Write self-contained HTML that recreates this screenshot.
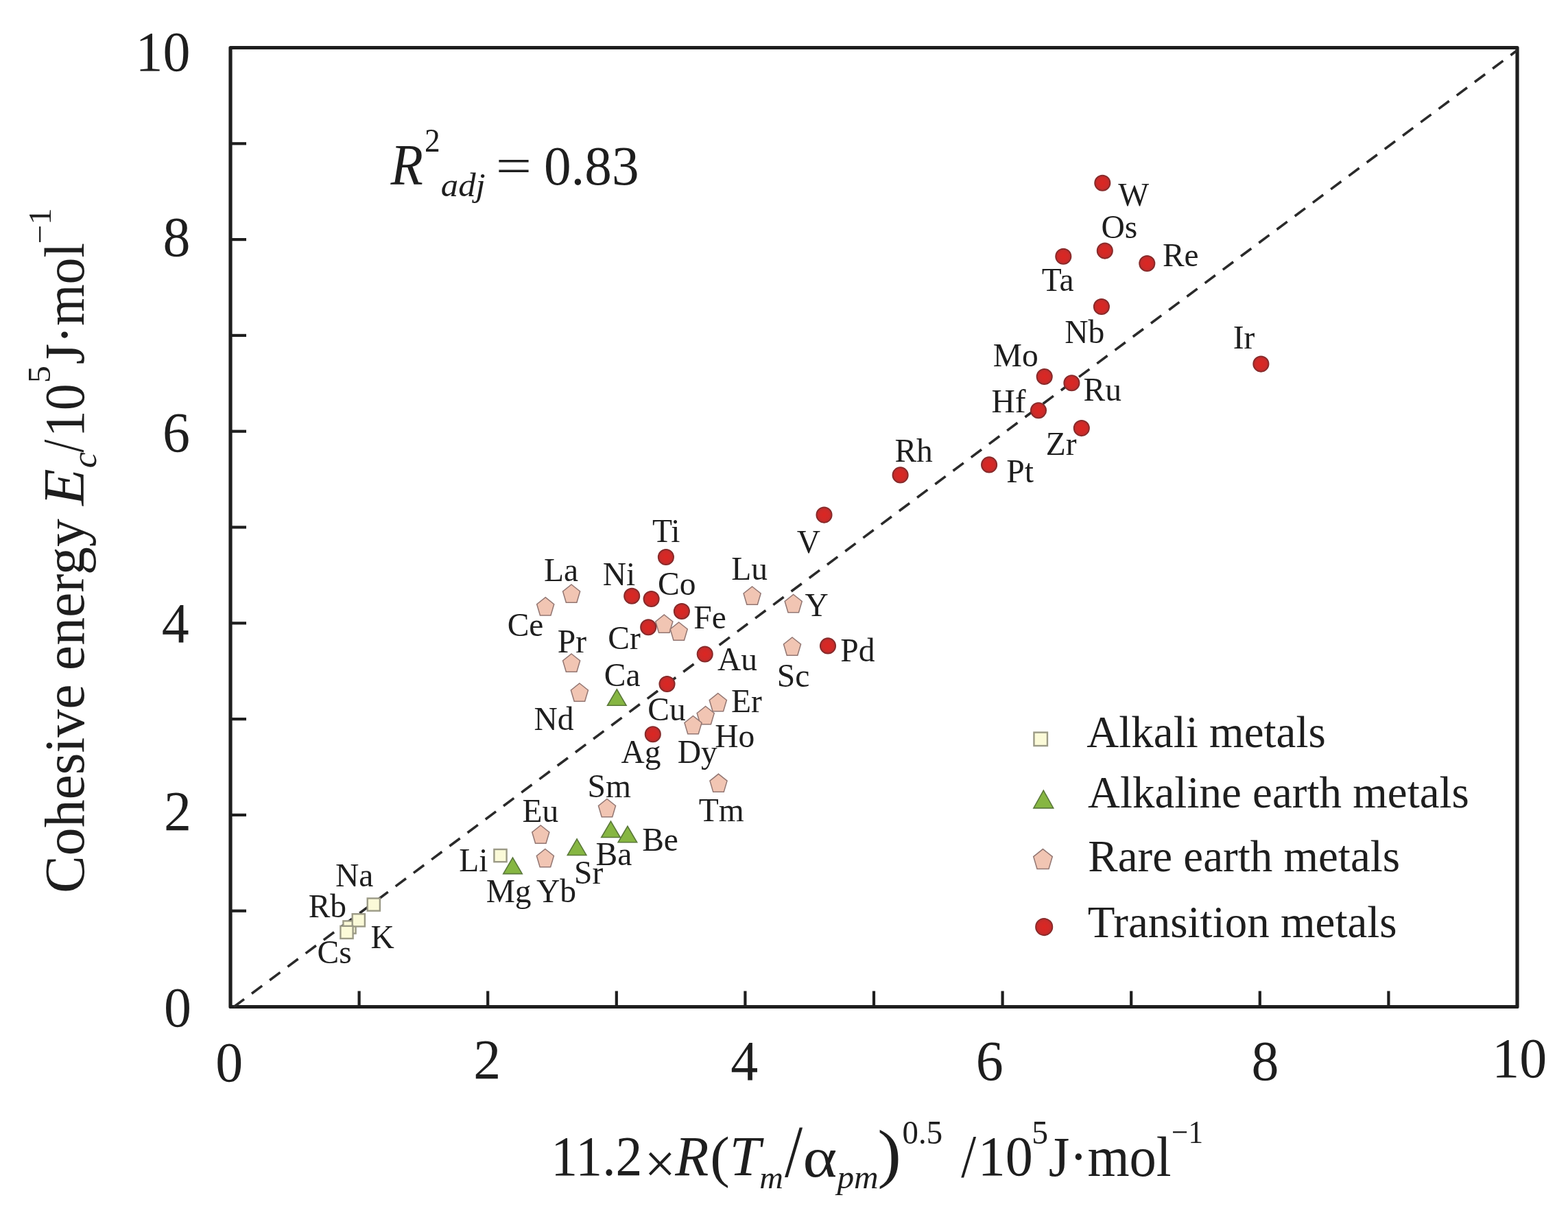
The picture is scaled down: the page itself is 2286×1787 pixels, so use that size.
<!DOCTYPE html>
<html><head><meta charset="utf-8"><title>Cohesive energy plot</title>
<style>
html,body{margin:0;padding:0;background:#fff;}
svg{display:block;}
text{font-family:'Liberation Serif','Times New Roman',serif;}
</style></head>
<body>
<svg width="2286" height="1787" viewBox="0 0 2286 1787">
<defs><radialGradient id="rg" cx="50%" cy="50%" r="50%"><stop offset="0" stop-color="#dc2622"/><stop offset="0.65" stop-color="#d02a28"/><stop offset="1" stop-color="#b42c2c"/></radialGradient></defs>
<rect width="2286" height="1787" fill="#fff"/>
<rect x="336.0" y="69.5" width="1876.0" height="1398.0" fill="none" stroke="#1e1e1e" stroke-width="5.2" stroke-linejoin="round"/>
<line x1="523.60" y1="1467.5" x2="523.60" y2="1444.5" stroke="#1e1e1e" stroke-width="4.2"/>
<line x1="336.0" y1="1327.70" x2="359.0" y2="1327.70" stroke="#1e1e1e" stroke-width="4.2"/>
<line x1="711.20" y1="1467.5" x2="711.20" y2="1444.5" stroke="#1e1e1e" stroke-width="4.2"/>
<line x1="336.0" y1="1187.90" x2="359.0" y2="1187.90" stroke="#1e1e1e" stroke-width="4.2"/>
<line x1="898.80" y1="1467.5" x2="898.80" y2="1444.5" stroke="#1e1e1e" stroke-width="4.2"/>
<line x1="336.0" y1="1048.10" x2="359.0" y2="1048.10" stroke="#1e1e1e" stroke-width="4.2"/>
<line x1="1086.40" y1="1467.5" x2="1086.40" y2="1444.5" stroke="#1e1e1e" stroke-width="4.2"/>
<line x1="336.0" y1="908.30" x2="359.0" y2="908.30" stroke="#1e1e1e" stroke-width="4.2"/>
<line x1="1274.00" y1="1467.5" x2="1274.00" y2="1444.5" stroke="#1e1e1e" stroke-width="4.2"/>
<line x1="336.0" y1="768.50" x2="359.0" y2="768.50" stroke="#1e1e1e" stroke-width="4.2"/>
<line x1="1461.60" y1="1467.5" x2="1461.60" y2="1444.5" stroke="#1e1e1e" stroke-width="4.2"/>
<line x1="336.0" y1="628.70" x2="359.0" y2="628.70" stroke="#1e1e1e" stroke-width="4.2"/>
<line x1="1649.20" y1="1467.5" x2="1649.20" y2="1444.5" stroke="#1e1e1e" stroke-width="4.2"/>
<line x1="336.0" y1="488.90" x2="359.0" y2="488.90" stroke="#1e1e1e" stroke-width="4.2"/>
<line x1="1836.80" y1="1467.5" x2="1836.80" y2="1444.5" stroke="#1e1e1e" stroke-width="4.2"/>
<line x1="336.0" y1="349.10" x2="359.0" y2="349.10" stroke="#1e1e1e" stroke-width="4.2"/>
<line x1="2024.40" y1="1467.5" x2="2024.40" y2="1444.5" stroke="#1e1e1e" stroke-width="4.2"/>
<line x1="336.0" y1="209.30" x2="359.0" y2="209.30" stroke="#1e1e1e" stroke-width="4.2"/>
<line x1="336.0" y1="1471.3" x2="2212.0" y2="73.3" stroke="#2a2a2a" stroke-width="3.6" stroke-dasharray="19 13.7" stroke-dashoffset="-5.9"/>
<text transform="translate(197.59,103.07) scale(0.975,1)" font-size="82" font-style="normal" fill="#1e1e1e">10</text>
<text transform="translate(237.57,373.17) scale(0.975,1)" font-size="82" font-style="normal" fill="#1e1e1e">8</text>
<text transform="translate(236.91,657.55) scale(0.975,1)" font-size="82" font-style="normal" fill="#1e1e1e">6</text>
<text transform="translate(235.77,936.49) scale(0.975,1)" font-size="82" font-style="normal" fill="#1e1e1e">4</text>
<text transform="translate(238.94,1209.95) scale(0.975,1)" font-size="82" font-style="normal" fill="#1e1e1e">2</text>
<text transform="translate(239.07,1495.87) scale(0.975,1)" font-size="82" font-style="normal" fill="#1e1e1e">0</text>
<text transform="translate(314.31,1576.10) scale(0.975,1)" font-size="82" font-style="normal" fill="#1e1e1e">0</text>
<text transform="translate(690.16,1571.60) scale(0.975,1)" font-size="82" font-style="normal" fill="#1e1e1e">2</text>
<text transform="translate(1065.16,1573.70) scale(0.975,1)" font-size="82" font-style="normal" fill="#1e1e1e">4</text>
<text transform="translate(1422.79,1574.00) scale(0.975,1)" font-size="82" font-style="normal" fill="#1e1e1e">6</text>
<text transform="translate(1824.51,1573.70) scale(0.975,1)" font-size="82" font-style="normal" fill="#1e1e1e">8</text>
<text transform="translate(2175.23,1570.40) scale(0.975,1)" font-size="82" font-style="normal" fill="#1e1e1e">10</text>
<rect x="500.40" y="1342.40" width="18.2" height="18.2" fill="#fbfad8" stroke="#9b9a86" stroke-width="2.4"/>
<rect x="513.70" y="1332.20" width="18.2" height="18.2" fill="#fbfad8" stroke="#9b9a86" stroke-width="2.4"/>
<rect x="535.70" y="1309.40" width="18.2" height="18.2" fill="#fbfad8" stroke="#9b9a86" stroke-width="2.4"/>
<rect x="496.40" y="1349.80" width="18.2" height="18.2" fill="#fbfad8" stroke="#9b9a86" stroke-width="2.4"/>
<rect x="720.40" y="1238.00" width="18.2" height="18.2" fill="#fbfad8" stroke="#9b9a86" stroke-width="2.4"/>
<polygon points="899.30,1004.75 913.05,1028.25 885.55,1028.25" fill="#86b642" stroke="#5a783a" stroke-width="1.6"/>
<polygon points="890.50,1197.05 904.25,1220.55 876.75,1220.55" fill="#86b642" stroke="#5a783a" stroke-width="1.6"/>
<polygon points="914.90,1204.25 928.65,1227.75 901.15,1227.75" fill="#86b642" stroke="#5a783a" stroke-width="1.6"/>
<polygon points="841.10,1222.95 854.85,1246.45 827.35,1246.45" fill="#86b642" stroke="#5a783a" stroke-width="1.6"/>
<polygon points="747.50,1250.15 761.25,1273.65 733.75,1273.65" fill="#86b642" stroke="#5a783a" stroke-width="1.6"/>
<polygon points="833.10,851.98 845.65,862.01 840.86,878.25 825.34,878.25 820.55,862.01" fill="#f1c5b3" stroke="#927672" stroke-width="1.5" stroke-linejoin="miter"/>
<polygon points="795.20,870.68 807.75,880.71 802.96,896.95 787.44,896.95 782.65,880.71" fill="#f1c5b3" stroke="#927672" stroke-width="1.5" stroke-linejoin="miter"/>
<polygon points="968.30,895.98 980.85,906.01 976.06,922.25 960.54,922.25 955.75,906.01" fill="#f1c5b3" stroke="#927672" stroke-width="1.5" stroke-linejoin="miter"/>
<polygon points="989.70,906.98 1002.25,917.01 997.46,933.25 981.94,933.25 977.15,917.01" fill="#f1c5b3" stroke="#927672" stroke-width="1.5" stroke-linejoin="miter"/>
<polygon points="833.10,952.98 845.65,963.01 840.86,979.25 825.34,979.25 820.55,963.01" fill="#f1c5b3" stroke="#927672" stroke-width="1.5" stroke-linejoin="miter"/>
<polygon points="844.90,995.98 857.45,1006.01 852.66,1022.25 837.14,1022.25 832.35,1006.01" fill="#f1c5b3" stroke="#927672" stroke-width="1.5" stroke-linejoin="miter"/>
<polygon points="1096.60,854.98 1109.15,865.01 1104.36,881.25 1088.84,881.25 1084.05,865.01" fill="#f1c5b3" stroke="#927672" stroke-width="1.5" stroke-linejoin="miter"/>
<polygon points="1156.70,866.48 1169.25,876.51 1164.46,892.75 1148.94,892.75 1144.15,876.51" fill="#f1c5b3" stroke="#927672" stroke-width="1.5" stroke-linejoin="miter"/>
<polygon points="1155.00,928.98 1167.55,939.01 1162.76,955.25 1147.24,955.25 1142.45,939.01" fill="#f1c5b3" stroke="#927672" stroke-width="1.5" stroke-linejoin="miter"/>
<polygon points="1046.80,1010.48 1059.35,1020.51 1054.56,1036.75 1039.04,1036.75 1034.25,1020.51" fill="#f1c5b3" stroke="#927672" stroke-width="1.5" stroke-linejoin="miter"/>
<polygon points="1028.70,1029.48 1041.25,1039.51 1036.46,1055.75 1020.94,1055.75 1016.15,1039.51" fill="#f1c5b3" stroke="#927672" stroke-width="1.5" stroke-linejoin="miter"/>
<polygon points="1010.50,1043.48 1023.05,1053.51 1018.26,1069.75 1002.74,1069.75 997.95,1053.51" fill="#f1c5b3" stroke="#927672" stroke-width="1.5" stroke-linejoin="miter"/>
<polygon points="1047.50,1128.08 1060.05,1138.11 1055.26,1154.35 1039.74,1154.35 1034.95,1138.11" fill="#f1c5b3" stroke="#927672" stroke-width="1.5" stroke-linejoin="miter"/>
<polygon points="885.00,1164.48 897.55,1174.51 892.76,1190.75 877.24,1190.75 872.45,1174.51" fill="#f1c5b3" stroke="#927672" stroke-width="1.5" stroke-linejoin="miter"/>
<polygon points="788.30,1202.98 800.85,1213.01 796.06,1229.25 780.54,1229.25 775.75,1213.01" fill="#f1c5b3" stroke="#927672" stroke-width="1.5" stroke-linejoin="miter"/>
<polygon points="794.90,1237.48 807.45,1247.51 802.66,1263.75 787.14,1263.75 782.35,1247.51" fill="#f1c5b3" stroke="#927672" stroke-width="1.5" stroke-linejoin="miter"/>
<circle cx="1607.3" cy="266.8" r="11.2" fill="url(#rg)" stroke="#842a2a" stroke-width="1.7"/>
<circle cx="1610.8" cy="365.6" r="11.2" fill="url(#rg)" stroke="#842a2a" stroke-width="1.7"/>
<circle cx="1550.3" cy="373.8" r="11.2" fill="url(#rg)" stroke="#842a2a" stroke-width="1.7"/>
<circle cx="1672.3" cy="384.0" r="11.2" fill="url(#rg)" stroke="#842a2a" stroke-width="1.7"/>
<circle cx="1605.9" cy="447.0" r="11.2" fill="url(#rg)" stroke="#842a2a" stroke-width="1.7"/>
<circle cx="1522.7" cy="549.0" r="11.2" fill="url(#rg)" stroke="#842a2a" stroke-width="1.7"/>
<circle cx="1562.4" cy="558.2" r="11.2" fill="url(#rg)" stroke="#842a2a" stroke-width="1.7"/>
<circle cx="1514.0" cy="598.2" r="11.2" fill="url(#rg)" stroke="#842a2a" stroke-width="1.7"/>
<circle cx="1576.8" cy="624.1" r="11.2" fill="url(#rg)" stroke="#842a2a" stroke-width="1.7"/>
<circle cx="1838.4" cy="530.6" r="11.2" fill="url(#rg)" stroke="#842a2a" stroke-width="1.7"/>
<circle cx="1442.1" cy="677.4" r="11.2" fill="url(#rg)" stroke="#842a2a" stroke-width="1.7"/>
<circle cx="1312.6" cy="692.4" r="11.2" fill="url(#rg)" stroke="#842a2a" stroke-width="1.7"/>
<circle cx="1201.5" cy="750.6" r="11.2" fill="url(#rg)" stroke="#842a2a" stroke-width="1.7"/>
<circle cx="970.9" cy="812.0" r="11.2" fill="url(#rg)" stroke="#842a2a" stroke-width="1.7"/>
<circle cx="921.2" cy="868.8" r="11.2" fill="url(#rg)" stroke="#842a2a" stroke-width="1.7"/>
<circle cx="949.6" cy="873.0" r="11.2" fill="url(#rg)" stroke="#842a2a" stroke-width="1.7"/>
<circle cx="993.9" cy="891.0" r="11.2" fill="url(#rg)" stroke="#842a2a" stroke-width="1.7"/>
<circle cx="945.2" cy="914.3" r="11.2" fill="url(#rg)" stroke="#842a2a" stroke-width="1.7"/>
<circle cx="1027.7" cy="953.5" r="11.2" fill="url(#rg)" stroke="#842a2a" stroke-width="1.7"/>
<circle cx="972.5" cy="997.0" r="11.2" fill="url(#rg)" stroke="#842a2a" stroke-width="1.7"/>
<circle cx="951.8" cy="1070.2" r="11.2" fill="url(#rg)" stroke="#842a2a" stroke-width="1.7"/>
<circle cx="1207.0" cy="941.4" r="11.2" fill="url(#rg)" stroke="#842a2a" stroke-width="1.7"/>
<text transform="translate(1630.35,300.00) scale(1.0,1)" font-size="47.5" font-style="normal" fill="#1e1e1e">W</text>
<text transform="translate(1605.55,347.00) scale(1.0,1)" font-size="47.5" font-style="normal" fill="#1e1e1e">Os</text>
<text transform="translate(1694.93,387.60) scale(1.0,1)" font-size="47.5" font-style="normal" fill="#1e1e1e">Re</text>
<text transform="translate(1518.74,424.20) scale(1.0,1)" font-size="47.5" font-style="normal" fill="#1e1e1e">Ta</text>
<text transform="translate(1552.13,500.20) scale(1.0,1)" font-size="47.5" font-style="normal" fill="#1e1e1e">Nb</text>
<text transform="translate(1447.83,534.40) scale(1.0,1)" font-size="47.5" font-style="normal" fill="#1e1e1e">Mo</text>
<text transform="translate(1797.78,508.10) scale(1.0,1)" font-size="47.5" font-style="normal" fill="#1e1e1e">Ir</text>
<text transform="translate(1579.53,583.60) scale(1.0,1)" font-size="47.5" font-style="normal" fill="#1e1e1e">Ru</text>
<text transform="translate(1445.53,600.80) scale(1.0,1)" font-size="47.5" font-style="normal" fill="#1e1e1e">Hf</text>
<text transform="translate(1524.73,662.60) scale(1.0,1)" font-size="47.5" font-style="normal" fill="#1e1e1e">Zr</text>
<text transform="translate(1467.33,702.70) scale(1.0,1)" font-size="47.5" font-style="normal" fill="#1e1e1e">Pt</text>
<text transform="translate(1304.43,673.00) scale(1.0,1)" font-size="47.5" font-style="normal" fill="#1e1e1e">Rh</text>
<text transform="translate(1161.87,806.00) scale(1.0,1)" font-size="47.5" font-style="normal" fill="#1e1e1e">V</text>
<text transform="translate(950.94,790.30) scale(1.0,1)" font-size="47.5" font-style="normal" fill="#1e1e1e">Ti</text>
<text transform="translate(793.03,847.10) scale(1.0,1)" font-size="47.5" font-style="normal" fill="#1e1e1e">La</text>
<text transform="translate(878.73,852.90) scale(1.0,1)" font-size="47.5" font-style="normal" fill="#1e1e1e">Ni</text>
<text transform="translate(958.95,867.20) scale(1.0,1)" font-size="47.5" font-style="normal" fill="#1e1e1e">Co</text>
<text transform="translate(1066.13,844.60) scale(1.0,1)" font-size="47.5" font-style="normal" fill="#1e1e1e">Lu</text>
<text transform="translate(1173.47,898.30) scale(1.0,1)" font-size="47.5" font-style="normal" fill="#1e1e1e">Y</text>
<text transform="translate(739.65,927.40) scale(1.0,1)" font-size="47.5" font-style="normal" fill="#1e1e1e">Ce</text>
<text transform="translate(1011.33,916.30) scale(1.0,1)" font-size="47.5" font-style="normal" fill="#1e1e1e">Fe</text>
<text transform="translate(886.35,945.50) scale(1.0,1)" font-size="47.5" font-style="normal" fill="#1e1e1e">Cr</text>
<text transform="translate(812.83,951.00) scale(1.0,1)" font-size="47.5" font-style="normal" fill="#1e1e1e">Pr</text>
<text transform="translate(1045.94,977.40) scale(1.0,1)" font-size="47.5" font-style="normal" fill="#1e1e1e">Au</text>
<text transform="translate(1225.33,963.70) scale(1.0,1)" font-size="47.5" font-style="normal" fill="#1e1e1e">Pd</text>
<text transform="translate(1132.82,1001.00) scale(1.0,1)" font-size="47.5" font-style="normal" fill="#1e1e1e">Sc</text>
<text transform="translate(880.85,1000.40) scale(1.0,1)" font-size="47.5" font-style="normal" fill="#1e1e1e">Ca</text>
<text transform="translate(778.43,1063.80) scale(1.0,1)" font-size="47.5" font-style="normal" fill="#1e1e1e">Nd</text>
<text transform="translate(944.35,1050.20) scale(1.0,1)" font-size="47.5" font-style="normal" fill="#1e1e1e">Cu</text>
<text transform="translate(1066.03,1038.30) scale(1.0,1)" font-size="47.5" font-style="normal" fill="#1e1e1e">Er</text>
<text transform="translate(1042.13,1089.40) scale(1.0,1)" font-size="47.5" font-style="normal" fill="#1e1e1e">Ho</text>
<text transform="translate(905.44,1112.00) scale(1.0,1)" font-size="47.5" font-style="normal" fill="#1e1e1e">Ag</text>
<text transform="translate(987.73,1112.00) scale(1.0,1)" font-size="47.5" font-style="normal" fill="#1e1e1e">Dy</text>
<text transform="translate(856.52,1162.00) scale(1.0,1)" font-size="47.5" font-style="normal" fill="#1e1e1e">Sm</text>
<text transform="translate(761.43,1197.60) scale(1.0,1)" font-size="47.5" font-style="normal" fill="#1e1e1e">Eu</text>
<text transform="translate(1018.74,1197.00) scale(1.0,1)" font-size="47.5" font-style="normal" fill="#1e1e1e">Tm</text>
<text transform="translate(669.13,1270.10) scale(1.0,1)" font-size="47.5" font-style="normal" fill="#1e1e1e">Li</text>
<text transform="translate(708.63,1314.60) scale(1.0,1)" font-size="47.5" font-style="normal" fill="#1e1e1e">Mg</text>
<text transform="translate(782.07,1314.60) scale(1.0,1)" font-size="47.5" font-style="normal" fill="#1e1e1e">Yb</text>
<text transform="translate(837.12,1288.20) scale(1.0,1)" font-size="47.5" font-style="normal" fill="#1e1e1e">Sr</text>
<text transform="translate(868.53,1261.00) scale(1.0,1)" font-size="47.5" font-style="normal" fill="#1e1e1e">Ba</text>
<text transform="translate(936.13,1240.40) scale(1.0,1)" font-size="47.5" font-style="normal" fill="#1e1e1e">Be</text>
<text transform="translate(488.93,1291.50) scale(1.0,1)" font-size="47.5" font-style="normal" fill="#1e1e1e">Na</text>
<text transform="translate(449.63,1336.60) scale(1.0,1)" font-size="47.5" font-style="normal" fill="#1e1e1e">Rb</text>
<text transform="translate(540.43,1381.70) scale(1.0,1)" font-size="47.5" font-style="normal" fill="#1e1e1e">K</text>
<text transform="translate(462.55,1404.00) scale(1.0,1)" font-size="47.5" font-style="normal" fill="#1e1e1e">Cs</text>
<text transform="translate(1584.37,1089.30) scale(0.985,1)" font-size="66" font-style="normal" fill="#1e1e1e">Alkali metals</text>
<text transform="translate(1585.97,1177.40) scale(0.985,1)" font-size="66" font-style="normal" fill="#1e1e1e">Alkaline earth metals</text>
<text transform="translate(1586.33,1270.40) scale(0.985,1)" font-size="66" font-style="normal" fill="#1e1e1e">Rare earth metals</text>
<text transform="translate(1585.83,1366.00) scale(0.985,1)" font-size="66" font-style="normal" fill="#1e1e1e">Transition metals</text>
<rect x="1507.45" y="1067.55" width="19.5" height="19.5" fill="#fbfad8" stroke="#9b9a86" stroke-width="2.4"/>
<polygon points="1521.30,1152.10 1535.70,1177.90 1506.90,1177.90" fill="#86b642" stroke="#5a783a" stroke-width="1.6"/>
<polygon points="1520.50,1237.55 1534.29,1248.57 1529.02,1266.40 1511.98,1266.40 1506.71,1248.57" fill="#f1c5b3" stroke="#927672" stroke-width="1.5" stroke-linejoin="miter"/>
<circle cx="1522.2" cy="1351.1" r="12.2" fill="url(#rg)" stroke="#842a2a" stroke-width="1.7"/>
<text transform="translate(569.42,269.00) scale(0.9232,1)" font-size="84" font-style="italic" fill="#1e1e1e">R</text>
<text transform="translate(619.10,221.40) scale(0.9265,1)" font-size="49" font-style="normal" fill="#1e1e1e">2</text>
<text transform="translate(642.79,286.00) scale(1.0573,1)" font-size="48" font-style="italic" fill="#1e1e1e">adj</text>
<text transform="translate(722.78,265.90) scale(1.1322,0.873)" font-size="82" font-style="normal" fill="#1e1e1e">=</text>
<text transform="translate(792.88,269.00) scale(0.9793,1)" font-size="81" font-style="normal" fill="#1e1e1e">0.83</text>
<text transform="translate(803.26,1713.30) scale(0.9372,1)" font-size="83" font-style="normal" fill="#1e1e1e">11.2</text>
<text transform="translate(939.42,1723.80) scale(0.9716,1)" font-size="83" font-style="normal" fill="#1e1e1e">×</text>
<text transform="translate(984.33,1713.30) scale(0.9685,1)" font-size="83" font-style="italic" fill="#1e1e1e">R</text>
<text transform="translate(1035.14,1714.40) scale(1.032,1)" font-size="83" font-style="normal" fill="#1e1e1e">(</text>
<text transform="translate(1063.78,1713.30) scale(0.9795,1)" font-size="83" font-style="italic" fill="#1e1e1e">T</text>
<text transform="translate(1107.27,1732.00) scale(1.0208,1)" font-size="47" font-style="italic" fill="#1e1e1e">m</text>
<text transform="translate(1144.00,1714.90) scale(1.1318,1.3)" font-size="83" font-style="normal" fill="#1e1e1e">/</text>
<text transform="translate(1170.58,1714.50) scale(1.144,1)" font-size="83" font-style="normal" fill="#1e1e1e">α</text>
<text transform="translate(1220.39,1731.50) scale(1.0276,1)" font-size="48" font-style="italic" fill="#1e1e1e">pm</text>
<text transform="translate(1279.34,1712.70) scale(1.2572,1.149)" font-size="83" font-style="normal" fill="#1e1e1e">)</text>
<text transform="translate(1315.62,1666.60) scale(0.9553,1)" font-size="49" font-style="normal" fill="#1e1e1e">0.5</text>
<text transform="translate(1401.20,1714.60) scale(0.8957,1)" font-size="88" font-style="normal" fill="#1e1e1e">/</text>
<text transform="translate(1425.65,1713.30) scale(0.9663,1)" font-size="83" font-style="normal" fill="#1e1e1e">10</text>
<text transform="translate(1504.23,1666.80) scale(0.9727,1)" font-size="49" font-style="normal" fill="#1e1e1e">5</text>
<text transform="translate(1528.65,1713.80) scale(0.9469,1)" font-size="83" font-style="normal" fill="#1e1e1e">J·mol</text>
<text transform="translate(1708.05,1666.00) scale(0.9188,1)" font-size="47" font-style="normal" fill="#1e1e1e">−1</text>
<text transform="translate(122.40,1301.75) rotate(-90) scale(0.9849,1)" font-size="83" font-style="normal" fill="#1e1e1e">Cohesive energy</text>
<text transform="translate(122.40,737.07) rotate(-90) scale(1.0463,1)" font-size="84" font-style="italic" fill="#1e1e1e">E</text>
<text transform="translate(140.00,682.31) rotate(-90) scale(1.0489,1)" font-size="50" font-style="italic" fill="#1e1e1e">c</text>
<text transform="translate(121.00,659.60) rotate(-90) scale(0.8056,1)" font-size="84" font-style="normal" fill="#1e1e1e">/</text>
<text transform="translate(122.40,637.14) rotate(-90) scale(0.9374,1)" font-size="83" font-style="normal" fill="#1e1e1e">10</text>
<text transform="translate(73.00,558.14) rotate(-90) scale(1.1009,1)" font-size="46" font-style="normal" fill="#1e1e1e">5</text>
<text transform="translate(122.40,531.34) rotate(-90) scale(0.9388,1)" font-size="83" font-style="normal" fill="#1e1e1e">J·mol</text>
<text transform="translate(74.20,355.34) rotate(-90) scale(1.0436,1)" font-size="47" font-style="normal" fill="#1e1e1e">−1</text>
</svg>
</body></html>
